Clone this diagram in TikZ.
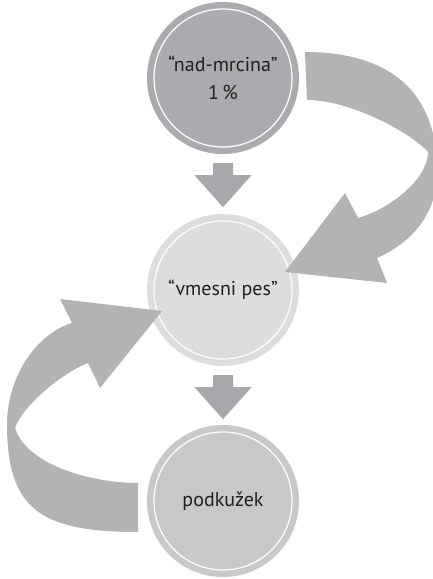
\documentclass[tikz,border=0pt]{standalone}
\usepackage{fontspec}
\setmainfont{PT Sans}
\usetikzlibrary{calc}

\definecolor{topgray}{HTML}{A9ABAE}
\definecolor{midgray}{HTML}{DCDDDF}
\definecolor{botgray}{HTML}{C7C8CA}
\definecolor{bendgray}{HTML}{B3B3B3}
\definecolor{arrowgray}{HTML}{A6A8AB}
\definecolor{inkgray}{HTML}{231F20}

\tikzset{
  stage/.style={circle, minimum size=152pt, inner sep=0pt, align=center,
    font=\fontsize{20}{28}\selectfont, text=inkgray},
  ring/.style={draw=white, line width=1.2pt},
  downarr/.style={fill=arrowgray},
  curvedarr/.style={fill=bendgray}
}

\begin{document}
\begin{tikzpicture}[x=1pt, y=1pt]
\useasboundingbox (0,0) rectangle (433,579);
\clip (0,0) rectangle (433,579);

% the three circles
\node[stage, fill=topgray] (top) at (223,501) {“nad-mrcina”\\1\,\%};
\draw[ring] (top.center) circle (69);
\node[stage, fill=midgray] (mid) at (223,289) {“vmesni pes”};
\draw[ring] (mid.center) circle (69);
\node[stage, fill=botgray] (bot) at (223,78) {podkužek};
\draw[ring] (bot.center) circle (69);

% straight arrows down
\fill[downarr] ($(top.south)+(-10,-9)$) -- ++(20,0) -- ++(0,-12) -- ++(18.5,0)
  -- ++(-28.5,-32) -- ++(-28.5,32) -- ++(18.5,0) -- cycle;
\fill[downarr] ($(mid.south)+(-10,-9)$) -- ++(20,0) -- ++(0,-12) -- ++(18.5,0)
  -- ++(-28.5,-32) -- ++(-28.5,32) -- ++(18.5,0) -- cycle;

% curved arrow on the right
\fill[curvedarr] (305,527) .. controls (391,527) and (437,486) .. (437,409)
  .. controls (438,378) and (424,342) .. (377,321)
  -- (387,296) -- (285,307) -- (345,386) -- (358,361)
  .. controls (390,370) and (428,400) .. (428,427)
  .. controls (410,447) and (350,479) .. (307,479) -- cycle;

% curved arrow on the left
\fill[curvedarr] (138,96) .. controls (95,96) and (28,112) .. (15,151)
  .. controls (22,172) and (60,205) .. (88,216)
  -- (100,191) -- (162,268) -- (60,280) -- (72,256)
  .. controls (35,245) and (7,200) .. (7,155)
  .. controls (7,70) and (40,47) .. (138,47) -- cycle;
\end{tikzpicture}
\end{document}
